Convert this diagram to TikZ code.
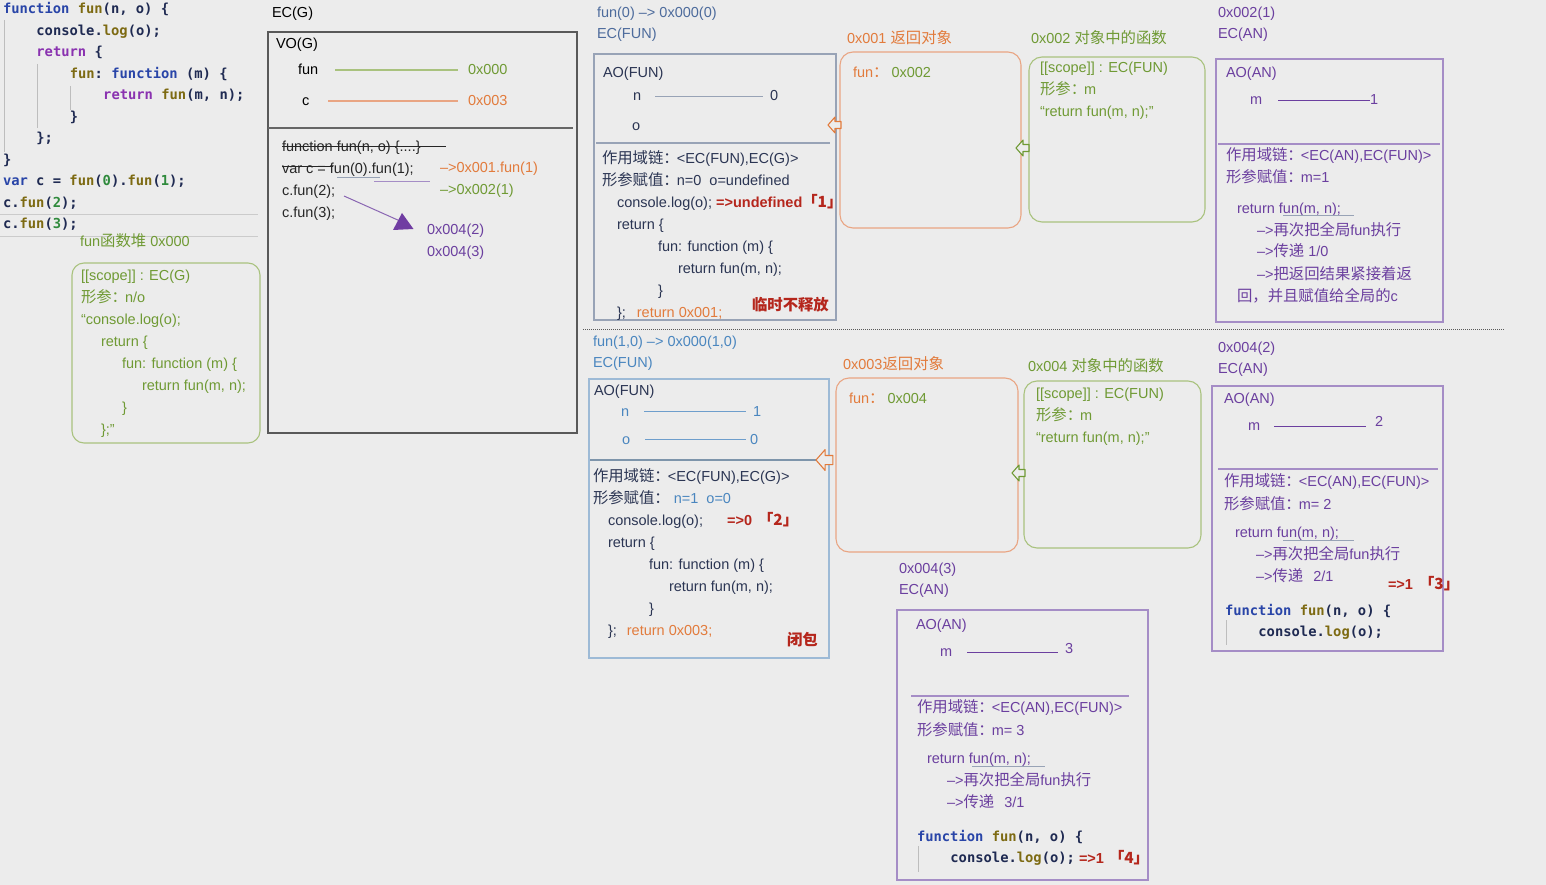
\documentclass[tikz,border=0pt]{standalone}
\usepackage{fontspec}
\setmainfont{Liberation Sans}
\setmonofont{DejaVu Sans Mono}
\newfontfamily\zhf[Scale=1.06]{Noto Sans CJK SC}
\newcommand\zh[1]{{\zhf #1}}
\newcommand\zc{{\zhf ：}\kern-2pt}
% palette
\definecolor{bg}{HTML}{ECECEC}
\definecolor{ink}{HTML}{2B3553}
\definecolor{slate}{HTML}{4D6B9C}
\definecolor{leaf}{HTML}{6F9A34}
\definecolor{leafline}{HTML}{A9C27E}
\definecolor{amber}{HTML}{E27B3C}
\definecolor{amberline}{HTML}{E9A583}
\definecolor{sky}{HTML}{4A86BF}
\definecolor{skyline}{HTML}{9DBAD6}
\definecolor{plum}{HTML}{6B3F9F}
\definecolor{plumline}{HTML}{A58DC6}
\definecolor{brick}{HTML}{B5261C}
\definecolor{steel}{HTML}{98A3B6}
\definecolor{kwc}{HTML}{2945A8}
\definecolor{fnc}{HTML}{7D6A12}
\definecolor{rtc}{HTML}{8A32B0}
\definecolor{numc}{HTML}{2F8A3C}
\definecolor{codec}{HTML}{1F2A52}
\definecolor{guide}{HTML}{BDBDBD}
% code colouring
\newcommand\kw[1]{\textcolor{kwc}{#1}}
\newcommand\fn[1]{\textcolor{fnc}{#1}}
\newcommand\rt[1]{\textcolor{rtc}{#1}}
\newcommand\nm[1]{\textcolor{numc}{#1}}
\begin{document}
% multi-line nodes sit on the baseline of their LAST line
\begin{tikzpicture}[x=1pt,y=-1pt,
  every node/.style={inner sep=0pt, outer sep=0pt},
  txt/.style={anchor=base west, align=left, font=\fontsize{14.5}{22}\selectfont, text=ink},
  ttl/.style={txt, font=\fontsize{14.5}{21}\selectfont},
  code/.style={anchor=base west, align=left, font=\fontsize{13.8}{21.5}\selectfont\ttfamily\bfseries, text=codec},
  boxframe/.style={draw, rectangle, anchor=north west, line width=1.1pt},
  rbox/.style={boxframe, rounded corners=13pt},
  tie/.style={line width=1pt},
  sep/.style={line width=1.2pt},
  hollowarrow/.pic={\draw[fill=bg, line width=1.1pt, line join=round]
     (0,0) -- (7,-8) -- (7,-3.5) -- (13,-3.5) -- (13,3.5) -- (7,3.5) -- (7,8) -- cycle;}
]
\useasboundingbox (0,0) rectangle (1546,885);
\fill[bg] (0,0) rectangle (1546,885);

% ---------------- source listing ----------------
\draw[guide, line width=0.8pt] (4,20) -- (4,152);
\draw[guide, line width=0.8pt] (37,64) -- (37,128);
\draw[guide, line width=0.8pt] (70,86) -- (70,110);
\draw[guide!70!bg, line width=0.8pt] (0,214) -- (258,214);
\draw[guide!70!bg, line width=0.8pt] (0,236) -- (258,236);
\node[code] (src) at (3,229) {\kw{function} \fn{fun}(n, o) \{\\
\hspace*{33.4pt}console.\fn{log}(o);\\
\hspace*{33.4pt}\rt{return} \{\\
\hspace*{66.8pt}\fn{fun}: \kw{function} (m) \{\\
\hspace*{100.2pt}\rt{return} \fn{fun}(m, n);\\
\hspace*{66.8pt}\}\\
\hspace*{33.4pt}\};\\
\}\\
\kw{var} c = \fn{fun}(\nm{0}).\fn{fun}(\nm{1});\\
c.\fn{fun}(\nm{2});\\
c.\fn{fun}(\nm{3});};

% ---------------- function heap 0x000 ----------------
\node[txt, text=leaf] (heaplbl) at (80,247) {fun\zh{函数堆} 0x000};
\node[rbox, rounded corners=12pt, draw=leafline, minimum width=188pt, minimum height=180pt] (heap) at (72,263) {};
\node[txt, text=leaf] (heaptxt) at (81,434) {[[scope]] : EC(G)\\
\zh{形参}\zc n/o\\
“console.log(o);\\
\hspace*{20pt}return \{\\
\hspace*{41pt}fun: function (m) \{\\
\hspace*{61pt}return fun(m, n);\\
\hspace*{41pt}\}\\
\hspace*{20pt}\};”};

% ---------------- EC(G) ----------------
\node[ttl, text=black] (ecglbl) at (272,18) {EC(G)};
\node[boxframe, draw=black!65, line width=1.6pt, minimum width=309pt, minimum height=401pt] (ecg) at (268,32) {};
\draw[black!60, sep] (268,128) -- (573,128);
\node[txt, text=black] (vog) at (276,49) {VO(G)};
\node[txt, text=black] (vfun) at (298,75) {fun};
\node[txt, text=leaf] (vfunv) at (468,75) {0x000};
\draw[leafline, sep] ([xshift=17pt]vfun.east |- vfunv.west) -- ([xshift=-10pt]vfunv.west);
\node[txt, text=black] (vc) at (302,106) {c};
\node[txt, text=amber] (vcv) at (468,106) {0x003};
\draw[amberline, sep] ([xshift=19pt]vc.east |- vcv.west) -- ([xshift=-10pt]vcv.west);
\node[txt, text=black!85] (gcode) at (282,218) {function fun(n, o) \{....\}\\
var c = fun(0).fun(1);\\
c.fun(2);\\
c.fun(3);};
\draw[black!85, tie] (282,147) -- (446,147);
\draw[black!85, tie] (282,167) -- (333,167);
\draw[steel, tie] (337,178) -- (380,178);
\draw[plumline, tie] (374,182) -- (430,182);
\node[txt, text=amber] (to001) at (440,173) {–>0x001.fun(1)};
\node[txt, text=leaf] (to002) at (440,195) {–>0x002(1)};
\coordinate (callfrom) at (344,196);
\coordinate (callto) at (400,221);
\draw[plum!80, tie] (callfrom) -- (callto);
\fill[plum!85!rtc] (402,213) -- (413.5,229) -- (393,230) -- cycle;
\node[txt, text=plum] (r42) at (427,235) {0x004(2)};
\node[txt, text=plum] (r43) at (427,257) {0x004(3)};

% ---------------- fun(0) ----------------
\node[ttl, text=slate] (t0) at (597,39) {fun(0) –> 0x000(0)\\EC(FUN)};
\node[boxframe, draw=steel, minimum width=242pt, minimum height=266pt] (ec0) at (594,54) {};
\node[txt] (ao0) at (603,78) {AO(FUN)};
\node[txt] (n0) at (633,101) {n};
\node[txt] (n0v) at (770,101) {0};
\draw[steel, tie] ([xshift=14pt]n0.east |- n0v.west) -- ([xshift=-7pt]n0v.west);
\node[txt] (o0) at (632,131) {o};
\draw[steel, sep] (596,143) -- (830,143);
\node[txt] (sc0) at (602,317) {\zh{作用域链}\zc<EC(FUN),EC(G)>\\
\zh{形参赋值}\zc n=0\hspace{8pt}o=undefined\\
\hspace*{15pt}console.log(o); \textcolor{brick}{\bfseries =>undefined\zh{「1」}}\\
\hspace*{15pt}return \{\\
\hspace*{56pt}fun: function (m) \{\\
\hspace*{76pt}return fun(m, n);\\
\hspace*{56pt}\}\\
\hspace*{15pt}\};\hspace{11pt}\textcolor{amber}{return 0x001;}};
\node[txt, text=brick, font=\fontsize{14.5}{22}\selectfont\bfseries] (keep0) at (752,310) {\zh{临时不释放}};

% ---------------- 0x001 / 0x002 ----------------
\node[txt, text=amber] (l001) at (847,44) {0x001 \zh{返回对象}};
\node[rbox, draw=amberline, minimum width=181pt, minimum height=176pt] (o001) at (840,52) {};
\node[txt, text=amber] (f001) at (853,78) {fun\zh{：}\hspace{3pt}\textcolor{leaf}{0x002}};
\node[txt, text=leaf] (l002) at (1031,44) {0x002 \zh{对象中的函数}};
\node[rbox, draw=leafline, minimum width=176pt, minimum height=165pt] (o002) at (1029,57) {};
\node[txt, text=leaf] (s002) at (1040,117) {[[scope]] : EC(FUN)\\
\zh{形参}\zc m\\
“return fun(m, n);”};
\pic[color=amber] at (828,125) {hollowarrow};
\pic[color=leaf] at (1016,148) {hollowarrow};

% ---------------- 0x002(1) ----------------
\node[ttl, text=plum] (t21) at (1218,39) {0x002(1)\\EC(AN)};
\node[boxframe, draw=plumline, minimum width=227pt, minimum height=263pt] (ec21) at (1216,59) {};
\node[txt, text=plum] (ao21) at (1226,78) {AO(AN)};
\node[txt, text=plum] (m21) at (1250,105) {m};
\node[txt, text=plum] (m21v) at (1370,105) {1};
\draw[plum, tie] ([xshift=16pt]m21.east |- m21v.west) -- (m21v.west);
\draw[plumline, sep] (1218,144) -- (1440,144);
\node[txt, text=plum] (sc21) at (1226,183) {\zh{作用域链}\zc<EC(AN),EC(FUN)>\\
\zh{形参赋值}\zc m=1};
\node[txt, text=plum] (ret21) at (1237,301) {return fun(m, n);\\
\hspace*{20pt}–>\zh{再次把全局}fun\zh{执行}\\
\hspace*{20pt}–>\zh{传递} 1/0\\
\hspace*{20pt}–>\zh{把返回结果紧接着返}\\
\zh{回，并且赋值给全局的}c};
\draw[steel, tie] (1283,216) -- (1354,216);

% ---------------- divider ----------------
\draw[densely dotted, line width=1pt, black!65] (583,329) -- (1505,329);

% ---------------- fun(1,0) ----------------
\node[ttl, text=sky] (t10) at (593,367) {fun(1,0) –> 0x000(1,0)\\EC(FUN)};
\node[boxframe, draw=skyline, minimum width=240pt, minimum height=279pt] (ec10) at (589,379) {};
\node[txt] (ao10) at (594,395) {AO(FUN)};
\node[txt, text=sky] (n10) at (621,416) {n};
\node[txt, text=sky] (n10v) at (753,416) {1};
\draw[sky!80, tie] ([xshift=15pt]n10.east |- n10v.west) -- ([xshift=-7pt]n10v.west);
\node[txt, text=sky] (o10) at (622,444) {o};
\node[txt, text=sky] (o10v) at (750,444) {0};
\draw[sky!80, tie] ([xshift=15pt]o10.east |- o10v.west) -- ([xshift=-4pt]o10v.west);
\draw[skyline!80!black, sep] (590,460) -- (826,460);
\node[txt] (sc10) at (593,635) {\zh{作用域链}\zc<EC(FUN),EC(G)>\\
\zh{形参赋值}\zc\hspace{6pt}\textcolor{sky}{n=1\hspace{8pt}o=0}\\
\hspace*{15pt}console.log(o);\hspace{24pt}\textcolor{brick}{\bfseries =>0\hspace{6pt}\zh{「2」}}\\
\hspace*{15pt}return \{\\
\hspace*{56pt}fun: function (m) \{\\
\hspace*{76pt}return fun(m, n);\\
\hspace*{56pt}\}\\
\hspace*{15pt}\};\hspace{10pt}\textcolor{amber}{return 0x003;}};
\node[txt, text=brick, font=\fontsize{14.5}{22}\selectfont\bfseries] (clos) at (787,645) {\zh{闭包}};

% ---------------- 0x003 / 0x004 ----------------
\node[txt, text=amber] (l003) at (843,369) {0x003\zh{返回对象}};
\node[rbox, draw=amberline, minimum width=182pt, minimum height=174pt] (o003) at (836,378) {};
\node[txt, text=amber] (f003) at (849,403) {fun\zh{：}\hspace{3pt}\textcolor{leaf}{0x004}};
\node[txt, text=leaf] (l004) at (1028,371) {0x004 \zh{对象中的函数}};
\node[rbox, draw=leafline, minimum width=177pt, minimum height=167pt] (o004) at (1024,381) {};
\node[txt, text=leaf] (s004) at (1036,442) {[[scope]] : EC(FUN)\\
\zh{形参}\zc m\\
“return fun(m, n);”};
\pic[color=amber, scale=1.3] at (816,460) {hollowarrow};
\pic[color=leaf] at (1012,473) {hollowarrow};

% ---------------- 0x004(2) ----------------
\node[ttl, text=plum] (t42) at (1218,373) {0x004(2)\\EC(AN)};
\node[boxframe, draw=plumline, minimum width=231pt, minimum height=265pt] (ec42) at (1212,386) {};
\node[txt, text=plum] (ao42) at (1224,403) {AO(AN)};
\node[txt, text=plum] (m42) at (1248,430) {m};
\node[txt, text=plum] (m42v) at (1375,426) {2};
\draw[plum, tie] ([xshift=14pt]m42.east) -- ([xshift=-9pt]m42v.west |- m42.east);
\draw[plumline, sep] (1218,469) -- (1438,469);
\node[txt, text=plum, font=\fontsize{14.5}{23}\selectfont] (sc42) at (1224,509) {\zh{作用域链}\zc<EC(AN),EC(FUN)>\\
\zh{形参赋值}\zc m= 2};
\node[txt, text=plum] (ret42) at (1235,581) {return fun(m, n);\\
\hspace*{21pt}–>\zh{再次把全局}fun\zh{执行}\\
\hspace*{21pt}–>\zh{传递}\hspace{10pt}2/1};
\draw[steel, tie] (1283,540) -- (1354,540);
\node[txt, text=brick, font=\fontsize{14.5}{22}\selectfont\bfseries] (res42) at (1388,589) {=>1\hspace{6pt}\zh{「3」}};
\draw[guide, line width=0.8pt] (1226,620) -- (1226,645);
\node[code] (code42) at (1225,636.5) {\kw{function} \fn{fun}(n, o) \{\\
\hspace*{33.4pt}console.\fn{log}(o);};

% ---------------- 0x004(3) ----------------
\node[ttl, text=plum] (t43) at (899,594) {0x004(3)\\EC(AN)};
\node[boxframe, draw=plumline, minimum width=251pt, minimum height=270pt] (ec43) at (897,610) {};
\node[txt, text=plum] (ao43) at (916,629) {AO(AN)};
\node[txt, text=plum] (m43) at (940,656) {m};
\node[txt, text=plum] (m43v) at (1065,653) {3};
\draw[plum, tie] ([xshift=15pt]m43.east) -- ([xshift=-7pt]m43v.west |- m43.east);
\draw[plumline, sep] (911,696) -- (1129,696);
\node[txt, text=plum, font=\fontsize{14.5}{23}\selectfont] (sc43) at (917,735) {\zh{作用域链}\zc<EC(AN),EC(FUN)>\\
\zh{形参赋值}\zc m= 3};
\node[txt, text=plum] (ret43) at (927,807) {return fun(m, n);\\
\hspace*{20pt}–>\zh{再次把全局}fun\zh{执行}\\
\hspace*{20pt}–>\zh{传递}\hspace{10pt}3/1};
\draw[steel, tie] (972,766) -- (1045,766);
\draw[guide, line width=0.8pt] (918,846) -- (918,872);
\node[code] (code43) at (917,862.5) {\kw{function} \fn{fun}(n, o) \{\\
\hspace*{33.4pt}console.\fn{log}(o);};
\node[txt, text=brick, font=\fontsize{14.5}{22}\selectfont\bfseries] (res43) at (1079,863) {=>1\hspace{5pt}\zh{「4」}};
\end{tikzpicture}
\end{document}
